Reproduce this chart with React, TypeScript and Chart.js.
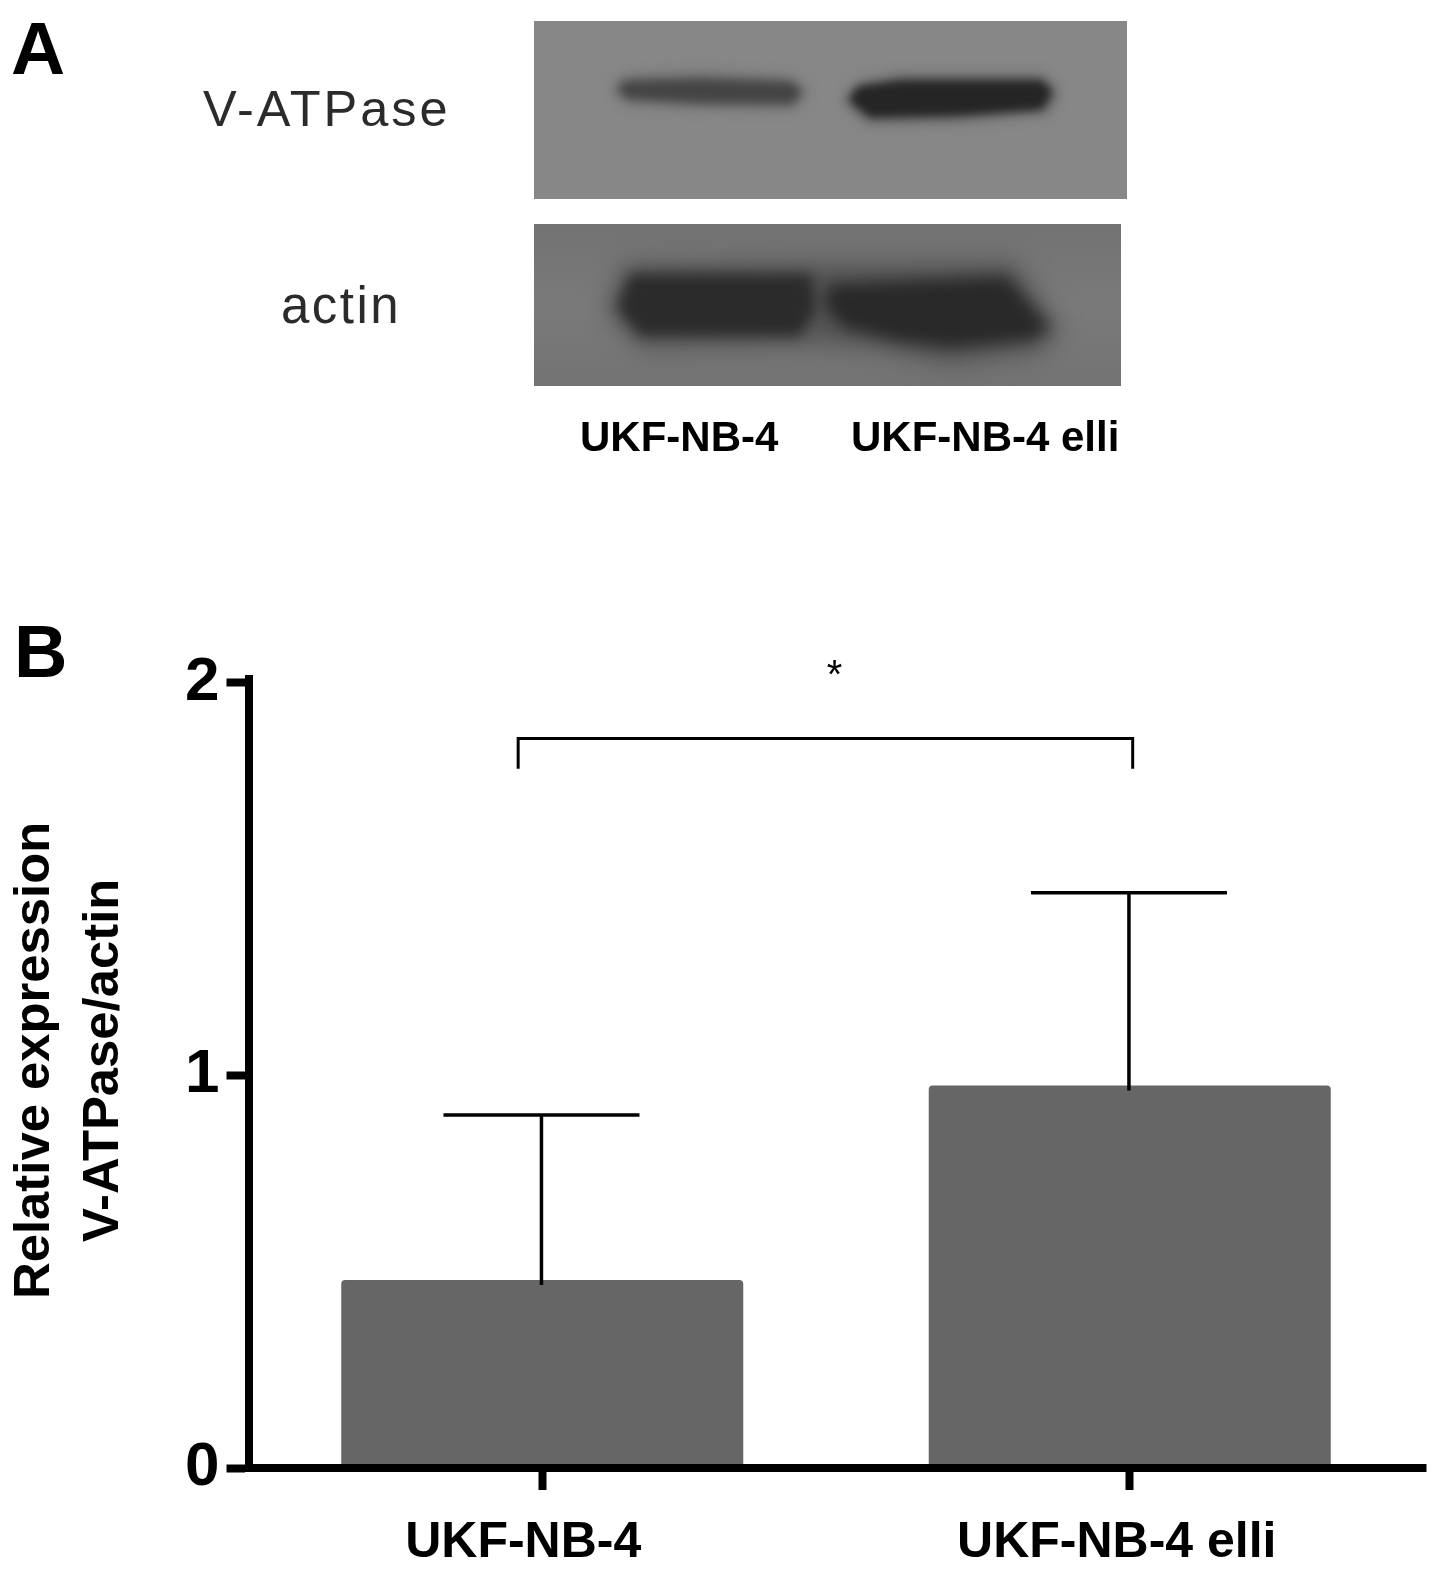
import React, { useEffect, useRef } from "react";
import { Chart, registerables } from "chart.js";

Chart.register(...registerables);

const categories = ["UKF-NB-4", "UKF-NB-4 elli"];
const means = [0.479, 0.974];
const upperErrors = [0.899, 1.465];
const yTicks = [0, 1, 2];
const yTitle = ["Relative expression", "V-ATPase/actin"];
const bracketX = [-0.041, 1.005];
const bracketY = [1.781, 1.858];
const starValue = 2.0;
const starLabel = "*";
const blotRows = ["V-ATPase", "actin"];

const SANS = '"Liberation Sans", Arial, sans-serif';

function blob(ctx: CanvasRenderingContext2D, pts: number[][], color: string, blur: number) {
  ctx.save();
  ctx.filter = `blur(${blur}px)`;
  ctx.fillStyle = color;
  ctx.beginPath();
  pts.forEach(([x, y], i) => (i ? ctx.lineTo(x, y) : ctx.moveTo(x, y)));
  ctx.closePath();
  ctx.fill();
  ctx.restore();
}

function txt(
  ctx: CanvasRenderingContext2D,
  s: string,
  x: number,
  y: number,
  font: string,
  color = "#000",
  spacing = "0px",
  align: CanvasTextAlign = "left"
) {
  ctx.save();
  ctx.font = font;
  ctx.fillStyle = color;
  ctx.textAlign = align;
  ctx.textBaseline = "alphabetic";
  (ctx as any).letterSpacing = spacing;
  ctx.fillText(s, x, y);
  ctx.restore();
}

const panelPlugin = {
  id: "panelA",
  beforeDraw(chart: any) {
    const ctx: CanvasRenderingContext2D = chart.ctx;
    ctx.save();
    ctx.fillStyle = "#fff";
    ctx.fillRect(0, 0, 1441, 1570);

    // upper blot
    ctx.save();
    ctx.beginPath();
    ctx.rect(534, 21, 593, 178);
    ctx.clip();
    ctx.fillStyle = "#878787";
    ctx.fillRect(534, 21, 593, 178);
    blob(ctx, [[625, 77], [700, 74], [790, 78], [808, 92], [792, 108], [700, 107], [628, 103], [612, 90]], "#666666", 7);
    blob(ctx, [[625, 82], [700, 80], [792, 83], [801, 92], [792, 103], [700, 102], [628, 98], [618, 90]], "#444444", 5);
    blob(ctx, [[858, 84], [900, 76], [1042, 76], [1058, 92], [1047, 112], [960, 120], [868, 122], [844, 100]], "#5a5a5a", 7);
    blob(ctx, [[858, 87], [900, 81], [1042, 81], [1052, 92], [1042, 109], [960, 115], [870, 117], [849, 100]], "#252525", 4.5);
    ctx.restore();

    // lower blot
    ctx.save();
    ctx.beginPath();
    ctx.rect(534, 224, 587, 162);
    ctx.clip();
    const g = ctx.createLinearGradient(0, 224, 0, 386);
    g.addColorStop(0, "#727272");
    g.addColorStop(0.5, "#7a7a7a");
    g.addColorStop(1, "#737373");
    ctx.fillStyle = g;
    ctx.fillRect(534, 224, 587, 162);
    blob(ctx, [[625, 264], [815, 262], [1015, 262], [1060, 330], [1040, 352], [950, 365], [880, 350], [818, 345], [640, 348], [606, 310]], "#555555", 12);
    blob(ctx, [[630, 274], [812, 274], [816, 310], [800, 336], [640, 336], [617, 308]], "#2b2b2b", 7);
    blob(ctx, [[828, 284], [1007, 276], [1030, 304], [1050, 328], [1032, 340], [950, 348], [900, 342], [843, 328], [823, 306]], "#292929", 8);
    ctx.restore();

    txt(ctx, "A", 11, 74, `bold 75px ${SANS}`);
    txt(ctx, "B", 14, 677, `bold 74px ${SANS}`);
    txt(ctx, blotRows[0], 203, 126, `50.5px ${SANS}`, "#2b2b2b", "3px");
    txt(ctx, blotRows[1], 281, 323, `51px ${SANS}`, "#2b2b2b", "2.5px");
    txt(ctx, categories[0], 580, 451, `bold 42px ${SANS}`);
    txt(ctx, categories[1], 851, 451, `bold 42px ${SANS}`);
    ctx.restore();
  },
};

const marksPlugin = {
  id: "marks",
  afterLayout(chart: any) {
    // the axis title sits a little above the middle of the axis
    const y = chart.scales.y;
    if (!y.__shifted) {
      y.__shifted = true;
      const orig = y.drawTitle;
      y.drawTitle = function () {
        this.ctx.save();
        this.ctx.translate(0, -13);
        orig.call(this);
        this.ctx.restore();
      };
    }
  },
  beforeDraw(chart: any) {
    const x = chart.scales.x;
    const items = x.getLabelItems();
    const nudge = [-19, -13];
    items.forEach((it: any, i: number) => {
      if (!it.__n) {
        it.__n = true;
        it.options.translation[0] += nudge[i];
      }
    });
  },
  afterDatasetsDraw(chart: any) {
    const { ctx, scales, chartArea } = chart;
    const x = scales.x;
    const y = scales.y;
    ctx.save();
    // the baseline runs on slightly past the plot area
    ctx.fillStyle = "#000";
    ctx.fillRect(chartArea.right, y.getPixelForValue(0) - 4, 3, 8);
    ctx.strokeStyle = "#000";
    ctx.lineWidth = 3.5;
    categories.forEach((_, i) => {
      const cx = x.getPixelForValue(i) - 0.8;
      const half = 98;
      ctx.beginPath();
      ctx.moveTo(cx, y.getPixelForValue(means[i]) + 5);
      ctx.lineTo(cx, y.getPixelForValue(upperErrors[i]));
      ctx.moveTo(cx - half, y.getPixelForValue(upperErrors[i]));
      ctx.lineTo(cx + half, y.getPixelForValue(upperErrors[i]));
      ctx.stroke();
    });
    ctx.lineWidth = 3;
    ctx.beginPath();
    ctx.moveTo(x.getPixelForValue(bracketX[0]), y.getPixelForValue(bracketY[0]));
    ctx.lineTo(x.getPixelForValue(bracketX[0]), y.getPixelForValue(bracketY[1]));
    ctx.lineTo(x.getPixelForValue(bracketX[1]), y.getPixelForValue(bracketY[1]));
    ctx.lineTo(x.getPixelForValue(bracketX[1]), y.getPixelForValue(bracketY[0]));
    ctx.stroke();
    txt(
      ctx,
      starLabel,
      (x.getPixelForValue(bracketX[0]) + x.getPixelForValue(bracketX[1])) / 2 + 9,
      y.getPixelForValue(starValue) + 5,
      `40px ${SANS}`,
      "#000",
      "0px",
      "center"
    );
    ctx.restore();
  },
};

export default function App() {
  const ref = useRef<HTMLCanvasElement | null>(null);
  useEffect(() => {
    if (!ref.current) return;
    const chart = new Chart(ref.current, {
      type: "bar",
      data: {
        labels: categories,
        datasets: [
          {
            label: "Relative expression",
            data: means,
            backgroundColor: "#666666",
            borderRadius: 4,
            borderSkipped: "bottom",
            barPercentage: 0.6843,
            categoryPercentage: 1,
          },
        ],
      },
      options: {
        responsive: false,
        animation: false,
        devicePixelRatio: 1,
        layout: { padding: { top: 678.7, right: 17.5, left: 0, bottom: 0 } },
        plugins: { legend: { display: false }, tooltip: { enabled: false }, title: { display: false } },
        scales: {
          x: {
            type: "category",
            offset: true,
            afterFit: (s: any) => {
              s.height = 1570 - 1468;
            },
            grid: {
              drawOnChartArea: false,
              drawTicks: true,
              tickLength: 22,
              tickWidth: 8,
              tickColor: "#000",
              offset: false,
              z: 1,
            },
            border: { display: true, color: "#000", width: 8, z: 1 },
            ticks: {
              color: "#000",
              maxRotation: 0,
              autoSkip: false,
              padding: 23,
              font: { family: SANS, weight: "bold", size: 50 },
            },
          },
          y: {
            type: "linear",
            min: 0,
            max: 2 + 4 / 392.6,
            afterFit: (s: any) => {
              s.width = 248.5;
            },
            afterBuildTicks: (s: any) => {
              s.ticks = yTicks.map((v) => ({ value: v }));
            },
            grid: {
              drawOnChartArea: false,
              drawTicks: true,
              tickLength: 22,
              tickWidth: 8,
              tickColor: "#000",
              z: 1,
            },
            border: { display: true, color: "#000", width: 8, z: 1 },
            ticks: {
              color: "#000",
              padding: 7,
              font: { family: SANS, weight: "bold", size: 62 },
            },
            title: {
              display: true,
              text: yTitle,
              color: "#000",
              padding: { top: 0, bottom: 0 },
              font: { family: SANS, weight: "bold", size: 50.8, lineHeight: 1.37 },
            },
          },
        },
      } as any,
      plugins: [panelPlugin, marksPlugin] as any,
    });
    return () => chart.destroy();
  }, []);
  return (
    <div style={{ position: "absolute", left: 0, top: 0, width: 1441, height: 1570, overflow: "hidden", background: "#fff" }}>
      <canvas ref={ref} width={1441} height={1570} style={{ display: "block" }} />
    </div>
  );
}
